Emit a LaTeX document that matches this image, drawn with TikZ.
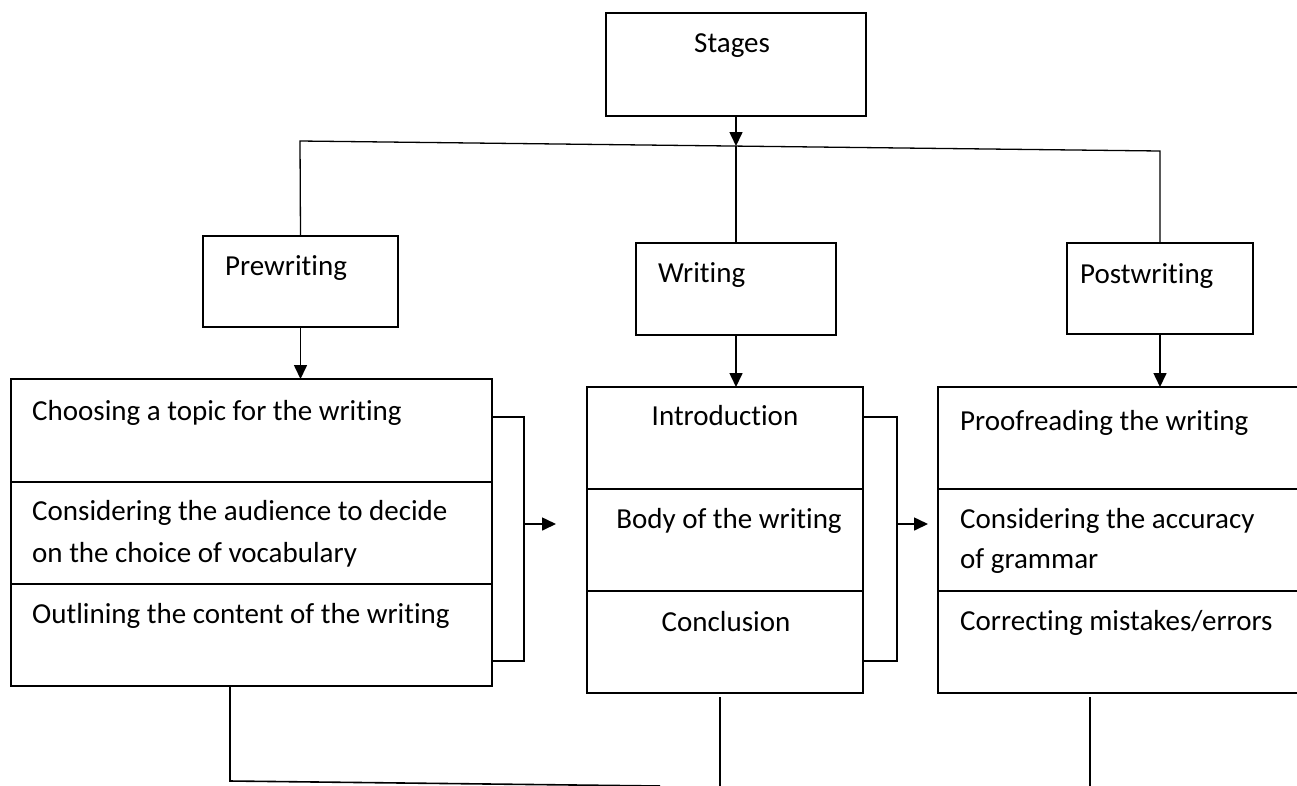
\documentclass[tikz,border=0pt]{standalone}
\usepackage{fontspec}
\setmainfont{Carlito}[RawFeature={-liga;-clig;-calt;-dlig}]
\usetikzlibrary{positioning,arrows.meta}

\tikzset{
  box/.style={draw, line width=2.2pt, inner sep=0pt, outer sep=0pt, anchor=north west},
  partbox/.style={draw, line width=2.2pt, inner sep=0pt, outer sep=0pt},
  txt/.style={inner sep=0pt, anchor=base west, font=\fontsize{29}{41}\selectfont},
  ctxt/.style={txt, anchor=base},
  link/.style={line width=1.6pt},
  arr/.style={link, -{Triangle[length=14pt,width=13pt]}}
}

\begin{document}
\begin{tikzpicture}[x=1pt, y=-1pt]
  \clip (0,0) rectangle (1297,785);
  % stage boxes
  \node[box, minimum width=260pt, minimum height=103pt] (stages) at (606,13) {};
  \node[box, minimum width=195pt, minimum height=91pt] (pre) at (203,236) {};
  \node[box, minimum width=200pt, minimum height=92pt] (wri) at (636,243) {};
  \node[box, minimum width=186pt, minimum height=91pt] (post) at (1067,243) {};
  \node[txt] at (694,52) {Stages};
  \node[txt] at (225,275) {Prewriting};
  \node[txt] at (658,282) {Writing};
  \node[txt] at (1080,283) {Postwriting};

  % prewriting steps
  \node[box, minimum width=481pt, minimum height=103pt] (pre1) at (11,379) {};
  \node[partbox, minimum width=481pt, minimum height=102pt, below=0pt of pre1] (pre2) {};
  \node[partbox, minimum width=481pt, minimum height=102pt, below=0pt of pre2] (pre3) {};
  \node[txt] at (32,420) {Choosing a topic for the writing};
  \node[txt] at (32,520) {Considering the audience to decide};
  \node[txt] at (32,562) {on the choice of vocabulary};
  \node[txt] at (32,623) {Outlining the content of the writing};

  % writing steps
  \node[box, minimum width=276pt, minimum height=102pt] (wri1) at (587,387) {};
  \node[partbox, minimum width=276pt, minimum height=102pt, below=0pt of wri1] (wri2) {};
  \node[partbox, minimum width=276pt, minimum height=102pt, below=0pt of wri2] (wri3) {};
  \node[ctxt] at (725,425) {Introduction};
  \node[ctxt] at (729,528) {Body of the writing};
  \node[ctxt] at (726,631) {Conclusion};

  % postwriting steps
  \node[box, minimum width=372pt, minimum height=102pt] (post1) at (938,387) {};
  \node[partbox, minimum width=372pt, minimum height=102pt, below=0pt of post1] (post2) {};
  \node[partbox, minimum width=372pt, minimum height=102pt, below=0pt of post2] (post3) {};
  \node[txt] at (960,430) {Proofreading the writing};
  \node[txt] at (960,528) {Considering the accuracy};
  \node[txt] at (960,568) {of grammar};
  \node[txt] at (960,630) {Correcting mistakes/errors};

  % branches
  \coordinate (hl) at (300,141);
  \coordinate (hm) at (736,146);
  \coordinate (hr) at (1160,151);
  \draw[link, line width=1.3pt] (pre.north) -- (hl) -- (hr) -- (post.north);
  \draw[arr] (stages.south) -- (hm);
  \draw[link] (hm) -- (wri.north);
  \draw[arr] (pre.south) -- (pre.south |- pre1.north);
  \draw[arr] (wri.south) -- (wri.south |- wri1.north);
  \draw[arr] (post.south) -- (post.south |- post1.north);

  % brackets
  \coordinate (lb) at (524,524);
  \coordinate (lt) at (556,524);
  \draw[link] (pre1.east |- 0,417) -| (lb) |- (pre3.east |- 0,661);
  \draw[arr] (lb) -- (lt);
  \coordinate (mb) at (897,524);
  \coordinate (mt) at (928,524);
  \draw[link] (wri1.east |- 0,417) -| (mb) |- (wri3.east |- 0,661);
  \draw[arr] (mb) -- (mt);

  % bottom lines
  \coordinate (bl) at (230,781);
  \coordinate (br) at (660,786);
  \draw[link] (pre3.south -| bl) -- (bl) -- (br);
  \draw[link] (720,697) -- (720,790);
  \draw[link] (1090,697) -- (1090,790);
\end{tikzpicture}
\end{document}
